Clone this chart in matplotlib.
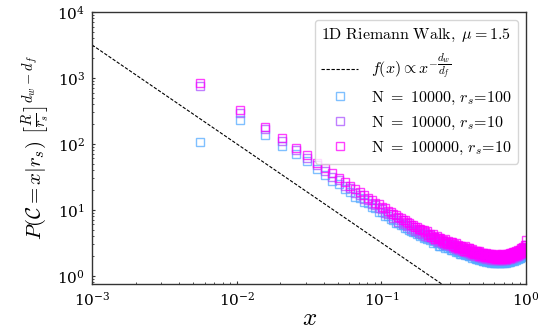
import numpy as np
import matplotlib
matplotlib.use("Agg")
import matplotlib.pyplot as plt

plt.rcParams["mathtext.fontset"] = "cm"
plt.rcParams["font.family"] = ["DejaVu Serif"]

# Cluster-size distribution, linear bins of width 0.005 (bin positions in units of R)
x_first = 0.0056
bin_width = 0.005
n_bins = 199
x = x_first + bin_width * np.arange(n_bins)

# N = 10000, r_s = 100
p_n10k_rs100 = [
    108, 230, 138, 94, 71, 54, 42, 34.2, 27.6, 24.8,
    20.4, 18.9, 15.9, 15.2, 13.0, 12.5, 10.9, 10.6, 9.35, 9.1,
    8.1, 8.0, 7.15, 7.1, 6.4, 6.4, 5.8, 5.8, 5.3, 5.35,
    4.9, 4.85, 4.55, 4.6, 4.25, 4.3, 4.0, 4.1, 3.8, 3.85,
    3.57, 3.82, 3.51, 3.74, 3.19, 3.36, 3.45, 3.09, 3.21, 2.86,
    2.86, 3.07, 2.85, 3.05, 2.62, 2.78, 2.87, 2.59, 2.71, 2.44,
    2.44, 2.63, 2.45, 2.63, 2.26, 2.41, 2.49, 2.27, 2.38, 2.15,
    2.16, 2.33, 2.18, 2.34, 2.03, 2.16, 2.25, 2.05, 2.16, 1.96,
    1.97, 2.13, 1.98, 2.14, 1.85, 1.98, 2.06, 1.87, 1.97, 1.79,
    1.81, 1.96, 1.83, 1.97, 1.72, 1.84, 1.92, 1.75, 1.85, 1.68,
    1.69, 1.84, 1.72, 1.86, 1.62, 1.74, 1.81, 1.66, 1.76, 1.60,
    1.62, 1.76, 1.65, 1.79, 1.56, 1.68, 1.76, 1.61, 1.71, 1.56,
    1.58, 1.73, 1.62, 1.76, 1.54, 1.66, 1.74, 1.60, 1.70, 1.56,
    1.58, 1.72, 1.62, 1.76, 1.54, 1.66, 1.74, 1.60, 1.71, 1.56,
    1.59, 1.73, 1.64, 1.78, 1.56, 1.69, 1.78, 1.64, 1.74, 1.60,
    1.63, 1.79, 1.69, 1.84, 1.62, 1.75, 1.85, 1.71, 1.82, 1.68,
    1.71, 1.87, 1.77, 1.93, 1.69, 1.84, 1.94, 1.79, 1.90, 1.75,
    1.78, 1.96, 1.85, 2.02, 1.78, 1.93, 2.03, 1.87, 2.01, 1.85,
    1.89, 2.07, 1.97, 2.16, 1.90, 2.07, 2.18, 2.02, 2.18, 2.02,
    2.07, 2.28, 2.17, 2.38, 2.11, 2.30, 2.44, 2.28, 2.6,
]

# N = 10000, r_s = 10
p_n10k_rs10 = [
    760, 295, 165, 110, 80, 62, 47, 38.5, 31.0, 27.9,
    23.0, 21.4, 18.0, 17.0, 14.8, 14.1, 12.3, 12.0, 10.6, 10.3,
    9.0, 8.5, 8.7, 7.4, 7.6, 6.6, 7.0, 6.1, 6.3, 5.6,
    5.8, 5.1, 5.4, 4.8, 5.0, 4.5, 4.7, 4.25, 4.45, 4.0,
    4.26, 3.86, 4.17, 3.83, 3.57, 3.85, 3.49, 3.71, 3.29, 3.39,
    3.41, 3.10, 3.38, 3.12, 2.93, 3.19, 2.91, 3.12, 2.78, 2.88,
    2.91, 2.66, 2.91, 2.69, 2.53, 2.76, 2.52, 2.73, 2.43, 2.54,
    2.58, 2.36, 2.58, 2.39, 2.27, 2.48, 2.28, 2.46, 2.21, 2.31,
    2.34, 2.15, 2.36, 2.19, 2.07, 2.27, 2.08, 2.25, 2.02, 2.12,
    2.16, 1.98, 2.18, 2.02, 1.92, 2.11, 1.94, 2.10, 1.89, 1.98,
    2.02, 1.86, 2.04, 1.90, 1.81, 1.99, 1.84, 2.00, 1.80, 1.89,
    1.93, 1.78, 1.96, 1.83, 1.75, 1.93, 1.78, 1.94, 1.75, 1.85,
    1.88, 1.74, 1.92, 1.80, 1.72, 1.90, 1.76, 1.92, 1.74, 1.84,
    1.88, 1.74, 1.92, 1.80, 1.72, 1.90, 1.76, 1.93, 1.75, 1.85,
    1.89, 1.75, 1.94, 1.82, 1.75, 1.94, 1.80, 1.97, 1.78, 1.89,
    1.94, 1.81, 2.00, 1.89, 1.81, 2.01, 1.87, 2.05, 1.87, 1.98,
    2.04, 1.89, 2.10, 1.98, 1.90, 2.11, 1.96, 2.15, 1.94, 2.07,
    2.12, 1.98, 2.19, 2.06, 1.99, 2.21, 2.05, 2.25, 2.06, 2.18,
    2.25, 2.10, 2.34, 2.21, 2.13, 2.37, 2.21, 2.43, 2.23, 2.38,
    2.46, 2.30, 2.57, 2.44, 2.35, 2.63, 2.47, 2.74, 2.9,
]

# N = 100000, r_s = 10
p_n100k_rs10 = [
    850, 325, 180, 122, 87, 68, 51, 42.5, 35.6, 30.0,
    26.5, 22.8, 20.8, 18.3, 16.9, 15.1, 14.2, 12.8, 12.1, 11.0,
    10.6, 9.7, 9.3, 8.6, 8.3, 7.7, 7.5, 7.0, 6.9, 6.45,
    6.32, 5.95, 5.88, 5.52, 5.47, 5.18, 5.14, 4.89, 4.86, 4.62,
    4.72, 4.13, 4.35, 3.83, 4.37, 3.90, 3.61, 3.95, 3.55, 3.79,
    3.78, 3.32, 3.52, 3.12, 3.59, 3.22, 3.01, 3.31, 3.00, 3.23,
    3.22, 2.84, 3.03, 2.69, 3.10, 2.79, 2.61, 2.90, 2.63, 2.85,
    2.85, 2.52, 2.69, 2.39, 2.78, 2.51, 2.36, 2.62, 2.39, 2.59,
    2.60, 2.30, 2.46, 2.19, 2.54, 2.29, 2.15, 2.39, 2.19, 2.38,
    2.39, 2.12, 2.27, 2.02, 2.35, 2.13, 2.01, 2.23, 2.05, 2.22,
    2.24, 1.99, 2.13, 1.90, 2.22, 2.01, 1.90, 2.12, 1.94, 2.12,
    2.14, 1.90, 2.04, 1.83, 2.14, 1.95, 1.84, 2.06, 1.89, 2.07,
    2.09, 1.87, 2.01, 1.80, 2.11, 1.92, 1.82, 2.04, 1.88, 2.06,
    2.08, 1.86, 2.00, 1.80, 2.11, 1.92, 1.82, 2.05, 1.89, 2.07,
    2.10, 1.88, 2.02, 1.82, 2.14, 1.96, 1.86, 2.09, 1.93, 2.12,
    2.15, 1.93, 2.09, 1.89, 2.22, 2.03, 1.94, 2.18, 2.02, 2.22,
    2.26, 2.02, 2.19, 1.98, 2.32, 2.13, 2.03, 2.28, 2.10, 2.32,
    2.35, 2.12, 2.29, 2.06, 2.43, 2.23, 2.12, 2.39, 2.22, 2.45,
    2.49, 2.24, 2.44, 2.21, 2.60, 2.39, 2.29, 2.59, 2.41, 2.67,
    2.73, 2.47, 2.68, 2.44, 2.88, 2.66, 2.56, 2.91, 3.50,
]

series = [
    (p_n10k_rs100, r"$\mathrm{N\ =\ 10000,}\,r_s\!=\!100$", 0.33),
    (p_n10k_rs10, r"$\mathrm{N\ =\ 10000,}\,r_s\!=\!10$", 0.67),
    (p_n100k_rs10, r"$\mathrm{N\ =\ 100000,}\,r_s\!=\!10$", 1.0),
]

# Reference power law f(x) = A x^{-(d_w/d_f)}
guide_prefactor = 0.1
guide_exponent = -1.5
x_guide = np.array([1e-3, 1.0])

fig = plt.figure(figsize=(5.38, 3.31), dpi=100)
ax = fig.add_axes([0.171, 0.142, 0.807, 0.822])

ax.plot(x_guide, guide_prefactor * x_guide ** guide_exponent,
        color="black", lw=0.8, linestyle=(0, (3, 1.5)),
        label=r"$f(x) \propto x^{-\dfrac{d_w}{d_f}}$")

cmap = plt.get_cmap("cool")
for values, label, c in series:
    ax.plot(x, values, linestyle="none", marker="s", markersize=6,
            markerfacecolor="none", markeredgecolor=cmap(c),
            markeredgewidth=1.0, alpha=0.75, label=label)

ax.set_xscale("log")
ax.set_yscale("log")
ax.set_xlim(1e-3, 1.0)
ax.set_ylim(0.75, 1e4)

ax.set_xlabel(r"$x$", fontsize=18, labelpad=-1)
ax.set_ylabel(r"$P(\mathcal{C} = x|r_s)\ \left[\frac{R}{r_s}\right]^{d_w - d_f}$",
              fontsize=15, labelpad=4)

ax.tick_params(which="both", direction="in", labelsize=11, color="#333333")
ax.tick_params(which="major", length=2.5, width=0.8, pad=5)
ax.tick_params(which="minor", length=1.5, width=0.6)
for s in ax.spines.values():
    s.set_color("#333333")
    s.set_linewidth(1.0)

leg = ax.legend(loc="upper right", fontsize=11.5, title_fontsize=11.5,
                title=r"$\mathrm{1D\ Riemann\ Walk,}\ \mu = 1.5$",
                handlelength=2.3, borderaxespad=0.5, framealpha=0.8,
                labelspacing=0.45)

fig.savefig("out.png", dpi=100)
